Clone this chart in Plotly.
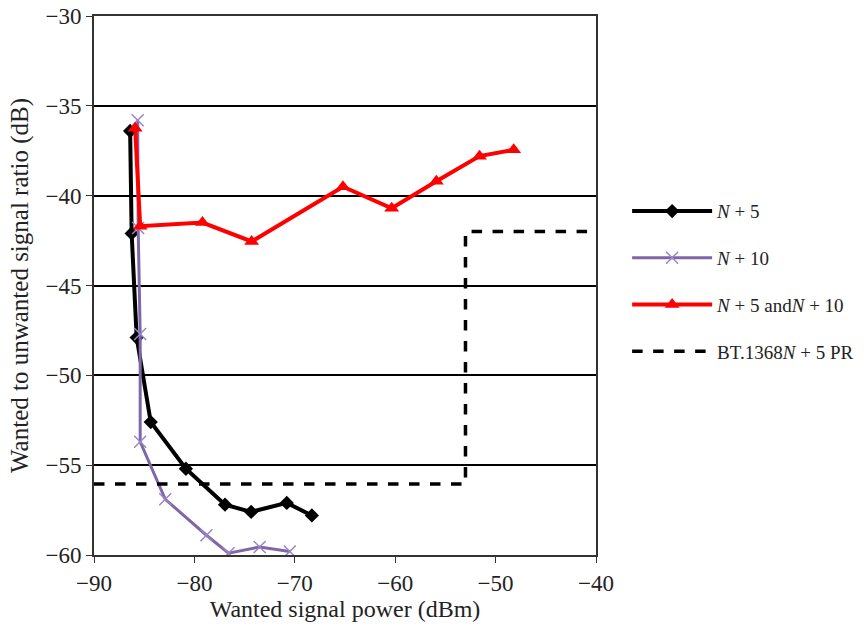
import plotly.graph_objects as go

# N + 5 (black diamonds)
n5_x = [-86.4, -86.25, -85.75, -84.35, -80.85, -76.95, -74.35, -70.8, -68.3]
n5_y = [-36.4, -42.1, -47.9, -52.6, -55.2, -57.2, -57.6, -57.1, -57.8]

# N + 10 (purple crosses)
n10_x = [-85.65, -85.6, -85.4, -85.4, -82.9, -78.8, -76.6, -73.5, -70.5]
n10_y = [-35.8, -41.8, -47.7, -53.7, -56.9, -58.9, -59.9, -59.55, -59.8]

# N + 5 and N + 10 (red triangles)
both_x = [-85.9, -85.4, -79.2, -74.3, -65.2, -60.35, -55.9, -51.6, -48.2]
both_y = [-36.25, -41.7, -41.5, -42.55, -39.5, -40.7, -39.2, -37.8, -37.45]

# BT.1368 N + 5 protection ratio (step)
pr_x = [-90, -53, -53, -40]
pr_y = [-56.05, -56.05, -42.0, -42.0]

x_ticks = [-90, -80, -70, -60, -50, -40]
y_ticks = [-30, -35, -40, -45, -50, -55, -60]

FONT = "Liberation Serif, Times New Roman, serif"

fig = go.Figure()
fig.add_trace(go.Scatter(
    x=n5_x, y=n5_y, mode="lines+markers", name="<i>N</i> + 5",
    line=dict(color="black", width=4),
    marker=dict(symbol="diamond", size=11, color="black"),
    legendgroup="a"))
fig.add_trace(go.Scatter(
    x=n10_x, y=n10_y, mode="lines+markers", name="<i>N</i> + 10",
    line=dict(color="#7f66a9", width=3),
    marker=dict(symbol="x-thin", size=12, color="#9a86c4",
                line=dict(color="#9a86c4", width=1.5)),
    legendgroup="b"))
fig.add_trace(go.Scatter(
    x=both_x, y=both_y, mode="lines+markers", name="<i>N</i> + 5 and<i>N</i> + 10",
    line=dict(color="#ff0000", width=4),
    marker=dict(symbol="triangle-up", size=13, color="#ff0000"),
    legendgroup="c"))
fig.add_trace(go.Scatter(
    x=pr_x, y=pr_y, mode="lines", name="BT.1368<i>N</i> + 5 PR",
    line=dict(color="black", width=3.5, dash="dash"),
    legendgroup="d"))

fig.update_layout(
    width=866, height=631,
    margin=dict(l=94, r=270, t=16, b=76, autoexpand=False),
    paper_bgcolor="white", plot_bgcolor="white",
    font=dict(family=FONT, size=22, color="#222"),
    showlegend=True,
    legend=dict(x=1.062, y=0.508, xanchor="left", yanchor="middle",
                font=dict(family=FONT, size=19, color="#222"),
                tracegroupgap=19, itemwidth=80,
                bgcolor="rgba(0,0,0,0)"),
    xaxis=dict(range=[-90, -40], tickvals=x_ticks, showgrid=False,
               zeroline=False, showline=True, linecolor="#333", linewidth=2,
               mirror=True, ticks="outside", ticklen=6, tickcolor="#333",
               automargin=False,
               tickfont=dict(family=FONT, size=23),
               title=dict(text="Wanted signal power (dBm)",
                          font=dict(family=FONT, size=24), standoff=4)),
    yaxis=dict(range=[-60, -30], tickvals=y_ticks, showgrid=True,
               gridcolor="black", gridwidth=2, zeroline=False,
               showline=True, linecolor="#333", linewidth=2, mirror=True,
               ticks="outside", ticklen=6, tickcolor="#333",
               automargin=False,
               tickfont=dict(family=FONT, size=23),
               title=dict(text="Wanted to unwanted signal ratio (dB)",
                          font=dict(family=FONT, size=25), standoff=10)),
)

fig.write_html("out.html",
               config={"displayModeBar": False},
               post_script="document.body.style.margin='0px';document.body.style.overflow='hidden';")
